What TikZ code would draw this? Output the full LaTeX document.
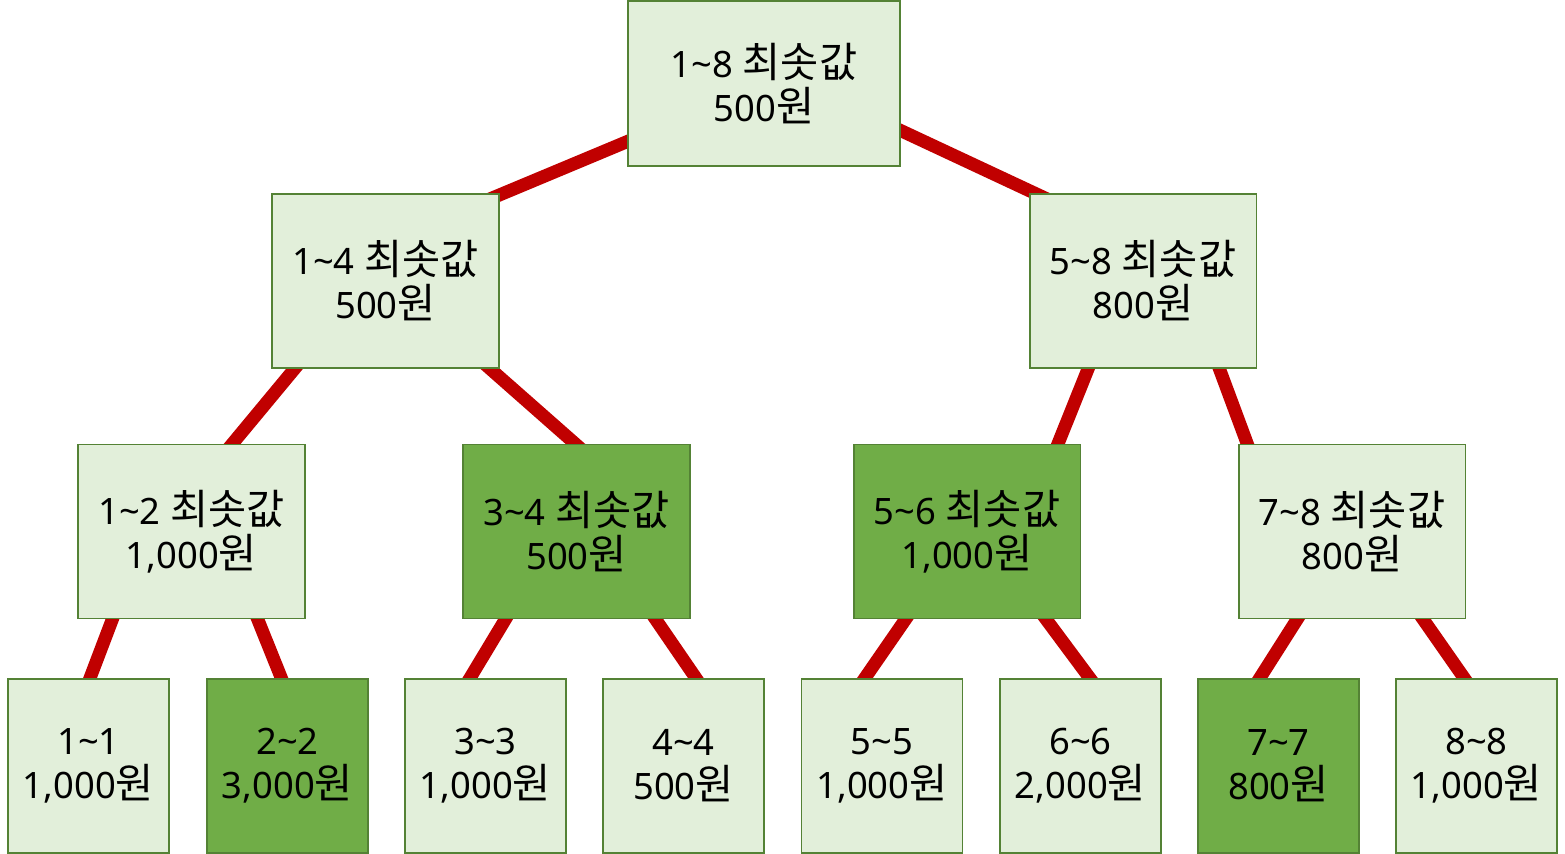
\documentclass[tikz,border=0pt]{standalone}
\usepackage{fontspec}
\setmainfont{Noto Sans}
\newfontfamily\krfont[Scale=1.14]{Noto Sans CJK KR}
\usepackage{xcolor}
\usepackage{tikz}
\usetikzlibrary{backgrounds}
\definecolor{cellline}{RGB}{84,130,53}
\definecolor{celllight}{RGB}{226,239,218}
\definecolor{cellpick}{RGB}{112,173,71}
\definecolor{linkred}{RGB}{192,0,0}
\newcommand{\minval}{{\krfont 최솟값}}
\newcommand{\won}{{\krfont 원}}
\tikzset{
  cell/.style={rectangle, draw=cellline, fill=celllight, line width=1.1pt,
    align=center, inner sep=0pt, font=\fontsize{20.7}{25}\selectfont},
  pickcell/.style={cell, fill=cellpick},
  rootsize/.style={minimum width=5.44cm, minimum height=3.3cm},
  midsize/.style={minimum width=4.54cm, minimum height=3.48cm},
  leafsize/.style={minimum width=3.22cm, minimum height=3.48cm},
  link/.style={line width=0.26cm, color=linkred, shorten <=-8pt, shorten >=-8pt}
}

\begin{document}
\begin{tikzpicture}[x=0.02cm, y=-0.02cm]
  \useasboundingbox (0,0) rectangle (1565,854);

  % Root node
  \node[cell, rootsize] (r18) at (764,83.5) {1\textasciitilde8 \minval\\500\won};

  % Second level
  \node[cell, midsize] (r14) at (385.5,281) {1\textasciitilde4 \minval\\500\won};
  \node[cell, midsize] (r58) at (1143,281) {5\textasciitilde8 \minval\\800\won};

  % Third level
  \node[cell, midsize] (r12) at (191.5,531.5) {1\textasciitilde2 \minval\\1,000\won};
  \node[pickcell, midsize] (r34) at (576.5,531.5) {3\textasciitilde4 \minval\\500\won};
  \node[pickcell, midsize] (r56) at (967,531.5) {5\textasciitilde6 \minval\\1,000\won};
  \node[cell, midsize] (r78) at (1352,531.5) {7\textasciitilde8 \minval\\800\won};

  % Leaves
  \node[cell, leafsize] (r11) at (88.5,766) {1\textasciitilde1\\1,000\won};
  \node[pickcell, leafsize] (r22) at (287.5,766) {2\textasciitilde2\\3,000\won};
  \node[cell, leafsize] (r33) at (485.5,766) {3\textasciitilde3\\1,000\won};
  \node[cell, leafsize] (r44) at (683.5,766) {4\textasciitilde4\\500\won};
  \node[cell, leafsize] (r55) at (882,766) {5\textasciitilde5\\1,000\won};
  \node[cell, leafsize] (r66) at (1080.5,766) {6\textasciitilde6\\2,000\won};
  \node[pickcell, leafsize] (r77) at (1278.5,766) {7\textasciitilde7\\800\won};
  \node[cell, leafsize] (r88) at (1476.5,766) {8\textasciitilde8\\1,000\won};

  % Tree links, behind the boxes
  \begin{scope}[on background layer]
    \draw[link] (r18.203) -- (r14.37);
    \draw[link] (r18.341) -- (r58.141);
    \draw[link] (r14.224) -- (r12.65);
    \draw[link] (r14.320) -- (r34.91);
    \draw[link] (r58.238) -- (r56.44);
    \draw[link] (r58.311) -- (r78.140);
    \draw[link] (r12.228) -- (r11.89);
    \draw[link] (r12.307) -- (r22.94);
    \draw[link] (r34.231) -- (r33.100);
    \draw[link] (r34.312) -- (r44.82);
    \draw[link] (r56.235) -- (r55.101);
    \draw[link] (r56.312) -- (r66.84);
    \draw[link] (r78.238) -- (r77.102);
    \draw[link] (r78.309) -- (r88.98);
  \end{scope}
\end{tikzpicture}
\end{document}
